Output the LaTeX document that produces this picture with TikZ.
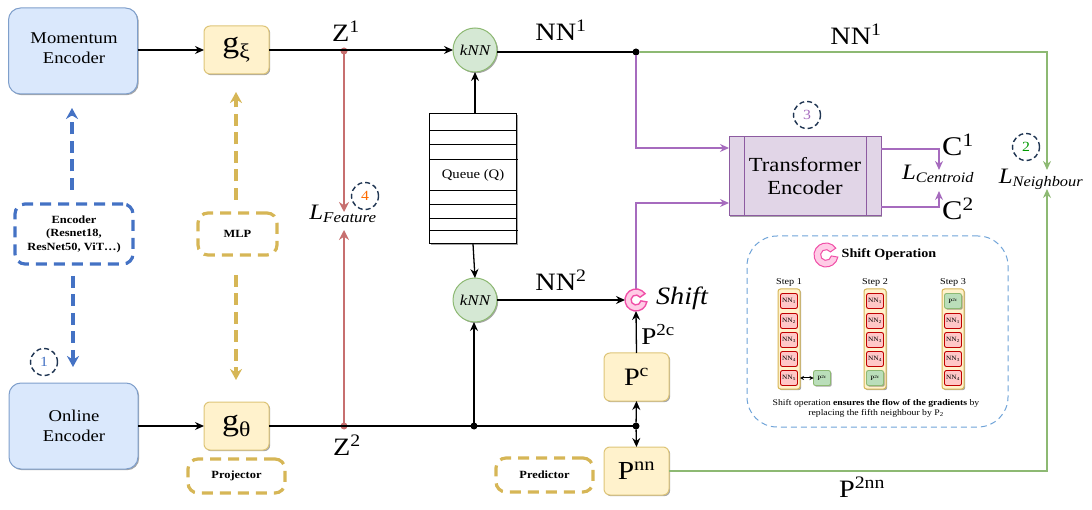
\documentclass[tikz,border=0pt]{standalone}
\usepackage{fontspec}
\setmainfont[FakeStretch=1.13]{Liberation Serif}
\usetikzlibrary{arrows.meta,shadows,calc}
\definecolor{bluefill}{HTML}{DAE8FC}\definecolor{blueedge}{HTML}{7F9FCB}
\definecolor{goldfill}{HTML}{FFF2CC}\definecolor{goldedge}{HTML}{D6B656}
\definecolor{greenfill}{HTML}{D5E8D4}\definecolor{greenedge}{HTML}{8DB973}
\definecolor{purplefill}{HTML}{E1D5E7}\definecolor{purpleedge}{HTML}{A66BBE}
\definecolor{redline}{HTML}{C76F6F}\definecolor{dashblue}{HTML}{4472C4}
\definecolor{navy}{HTML}{1F3552}\definecolor{pinkedge}{HTML}{F050A8}
\definecolor{pinkfill}{HTML}{FFCCE6}\definecolor{boxblue}{HTML}{6FA3D8}
\newcommand\fs[1]{\fontsize{#1}{#1}\selectfont}
\tikzset{
  every node/.style={inner sep=0pt,outer sep=0pt,align=center,text=black},
  shade/.style={drop shadow={shadow xshift=1.2pt,shadow yshift=-1.2pt,opacity=.35,fill=black}},
  encbox/.style={draw=blueedge,fill=bluefill,line width=1pt,rounded corners=12pt,minimum width=129pt,minimum height=86pt,shade},
  enctext/.style={font=\fs{16.5}},
  goldbox/.style={draw=goldedge!80,fill=goldfill,line width=1pt,rounded corners=6pt,minimum width=65pt,minimum height=48pt,shade},
  knnbox/.style={circle,draw=greenedge,fill=greenfill,line width=1pt,minimum size=44pt,shade,font=\fs{15}\itshape},
  dashbox/.style={draw,dash pattern=on 11pt off 7pt,line width=3.2pt,rounded corners=10pt,font=\fs{11}\bfseries},
  numcirc/.style={circle,draw=navy,dash pattern=on 5pt off 3pt,line width=1.4pt,minimum size=27pt,font=\fs{14}},
  arr/.style={-{Stealth[length=9pt,width=8pt]},line width=1.3pt,draw=black},
  plain/.style={line width=1.3pt,draw=black},
  dot/.style={circle,fill=black,minimum size=7pt},
  purp/.style={-{Stealth[length=9pt,width=8pt]},line width=1.3pt,draw=purpleedge},
  grn/.style={-{Stealth[length=9pt,width=8pt]},line width=1.3pt,draw=greenedge},
  red/.style={-{Stealth[length=10pt,width=10pt]},line width=1.5pt,draw=redline},
  dashblue arrow/.style={-{Stealth[length=11pt,width=12pt]},draw=dashblue,line width=3.4pt,dash pattern=on 12pt off 6.5pt},
  dashgold arrow/.style={-{Stealth[length=11pt,width=12pt]},draw=goldedge,line width=3.4pt,dash pattern=on 12pt off 6.5pt},
  lab/.style={font=\fs{25}},
  col/.style={draw=goldedge,fill=goldfill,line width=1pt,rounded corners=2.5pt,minimum width=22pt,minimum height=100pt,shade},
  nnbox/.style={draw=red!75!black,fill=red!22,line width=.9pt,rounded corners=2pt,minimum width=17pt,minimum height=15pt,font=\fs{6.5}},
  pxbox/.style={draw=greenedge,fill=green!35!gray!40,line width=.9pt,rounded corners=2pt,minimum width=17pt,minimum height=15pt,shade,font=\fs{6.5}},
  cring/.pic={
    \fill[pinkfill,draw=pinkedge,line width=#1]
      (-10:1) arc[start angle=-10,end angle=-325,radius=1]
      -- (-325:.45) arc[start angle=-325,end angle=-10,radius=.45] -- cycle;
  },
}
\begin{document}
\begin{tikzpicture}[x=1pt,y=-1pt]
\useasboundingbox (0,0) rectangle (1092,510);
% encoders
\node[encbox] (mom) at (73,51) {};
\node[enctext] (momt) at (74,48) {Momentum\\[3.5pt]Encoder};
\node[encbox] (onl) at (73.5,426) {};
\node[enctext] (onlt) at (74,426) {Online\\[3.5pt]Encoder};
\node[dashbox,draw=dashblue,minimum width=118pt,minimum height=60pt] (encl) at (74,234) {Encoder\\[2.5pt](Resnet18,\\[2.5pt]ResNet50, ViT…)};
\coordinate (bup) at (72,190);\coordinate (btop) at (72,108);
\coordinate (bdn) at (73,276);\coordinate (bbot) at (73,367);
\draw[dashblue arrow] (bup) -- (btop);
\draw[dashblue arrow] (bdn) -- (bbot);
\node[numcirc,text=dashblue] (n1) at (44,362) {1};
% projector
\node[goldbox,font=\fs{30}] (gx) at (236.5,50) {g\textsubscript{ξ}};
\node[goldbox,font=\fs{30}] (gt) at (236.5,426) {g\textsubscript{θ}};
\node[dashbox,draw=goldedge,minimum width=79pt,minimum height=42pt] (mlp) at (237.5,234) {MLP};
\node[dashbox,draw=goldedge,minimum width=97pt,minimum height=34pt] (proj) at (236.5,476) {Projector};
\coordinate (gup) at (236,200);\coordinate (gtop) at (236,92);
\coordinate (gdn) at (236,275);\coordinate (gbot) at (236,380);
\draw[dashgold arrow] (gup) -- (gtop);
\draw[dashgold arrow] (gdn) -- (gbot);
\draw[arr] (mom.east |- gx.west) -- (gx.west);
\draw[arr] (onl.east) -- (gt.west);
% kNN and queue
\node[knnbox] (k1) at (475,50) {kNN};
\node[knnbox] (k2) at (475,300) {kNN};
\node[draw=black,fill=white,line width=1pt,minimum width=87pt,minimum height=130pt,shade] (q) at (473,179) {};
\foreach \yy/\xe in {131/516,145/516,160/518,191/516,205/516,219/516,231/518}
  \draw[line width=1pt] (430,\yy) -- (\xe,\yy);
\node[font=\fs{13}] (qt) at (473,175) {Queue (Q)};
\draw[arr] (q.north -| k1) -- (k1.south);
\draw[arr] (q.south) -- (k2.north);
% Z1 line
\node[circle,fill=redline,minimum size=7pt] (zd1) at (344,51) {};
\node[circle,fill=redline,minimum size=7pt] (zd2) at (344,426) {};
\node[lab] (z1) at (346,31) {Z\textsuperscript{1}};
\node[lab] (z2) at (347,445) {Z\textsuperscript{2}};
\draw[arr] (gx.east) -- (k1.west);
% Z2 line
\node[dot] (d1) at (474,426) {};
\node[dot] (d2) at (636,426) {};
\draw[plain] (gt.east) -- (d2);
\draw[arr] (d1) -- (k2.south -| d1);
% L feature
\node[font=\fs{22}] (lf) at (343,214) {\textit{L}\textsubscript{\fs{15}\itshape Feature}};
\coordinate (lft) at (344,212);\coordinate (lfb) at (344,230);
\draw[red] (zd1) -- (lft);
\draw[red] (zd2) -- (lfb);
\node[numcirc,text=orange!85!red] (n4) at (365,196) {4};
% NN1
\node[dot] (d3) at (636,52) {};
\node[lab] (nn1a) at (561,30) {NN\textsuperscript{1}};
\node[lab] (nn1b) at (856,34) {NN\textsuperscript{1}};
\node[lab] (nn2) at (561,280) {NN\textsuperscript{2}};
\draw[plain] (k1.east |- d3) -- (d3);
% transformer
\node[draw=purpleedge!85!black,fill=purplefill,line width=1pt,minimum width=152pt,minimum height=79pt,shade,font=\fs{20}] (tr) at (805,176.5) {Transformer\\[3pt]Encoder};
\draw[purpleedge!85!black,line width=1pt] (744,137) -- (744,216) (866,137) -- (866,216);
\node[numcirc,text=purpleedge] (n3) at (807,115) {3};
\coordinate (tin1) at (729,148);\coordinate (tin2) at (729,203);
\draw[purp] (d3) |- (tin1);
% shift
\node[minimum size=22pt,circle] (sh) at (636,300) {};
\draw[purp] (sh.north) |- (tin2);
\pic[scale=11,yscale=-1] at (sh) {cring=1.4pt};
\node[font=\fs{25}\itshape] (sht) at (682,298) {Shift};
\draw[arr] (k2.east) -- (sh.west);
% predictors
\node[goldbox,font=\fs{25}] (pc) at (636.5,377) {P\textsuperscript{c}};
\node[goldbox,font=\fs{26}] (pn) at (636.5,471) {P\textsuperscript{nn}};
\node[dashbox,draw=goldedge,minimum width=97pt,minimum height=34pt] (pred) at (544.5,475) {Predictor};
\draw[arr] (pc.north) -- (sh.south);
\draw[arr] (d2) -- (pc.south);
\draw[arr] (d2) -- (pn.north);
\node[font=\fs{24}] (p2c) at (658,334) {P\textsuperscript{2c}};
\node[lab] (p2n) at (862,487) {P\textsuperscript{2nn}};
% C and losses
\node[font=\fs{27}] (c1) at (958,145) {C\textsuperscript{1}};
\node[font=\fs{27}] (c2) at (958,209) {C\textsuperscript{2}};
\node[font=\fs{22}] (lc) at (938,174) {\textit{L}\textsubscript{\fs{14.5}\itshape Centroid}};
\node[font=\fs{22}] (ln) at (1041,179) {\textit{L}\textsubscript{\fs{14.5}\itshape Neighbour}};
\coordinate (lct) at (939,170);\coordinate (lcb) at (939,191);
\coordinate (c1o) at (881,149);\coordinate (c2o) at (881,207);
\draw[purp] (c1o) -| (lct);
\draw[purp] (c2o) -| (lcb);
\coordinate (lnt) at (1047,170);\coordinate (lnb) at (1047,189);
\draw[grn] (d3) -| (lnt);
\draw[grn] (pn.east) -| (lnb);
\node[numcirc,text=green!60!black] (n2) at (1026,147) {2};
% shift operation panel
\node[draw=boxblue,dash pattern=on 6pt off 4pt,line width=1pt,rounded corners=30pt,minimum width=261pt,minimum height=191pt] (panel) at (877.5,331.5) {};
\node[minimum size=24pt,circle] (ic) at (826,255) {};
\pic[scale=12,yscale=-1] at (ic) {cring=1pt};
\node[font=\fs{12.5}\bfseries] (st) at (889,254) {Shift Operation};
\foreach \cx/\lbl/\nm in {789/Step 1/a,875/Step 2/b,953/Step 3/c}{
  \node[font=\fs{9}] (t\nm) at (\cx,282) {\lbl};
  \node[col] (col\nm) at (\cx,339) {};
}
\foreach \yy/\tx/\ii in {301/1/1,321/2/2,340/3/3,359/4/4,378/5/5}
  \node[nnbox] (a\ii) at (789,\yy) {NN\textsubscript{\tx}};
\foreach \yy/\tx/\ii in {301/1/1,321/2/2,340/3/3,359/4/4}
  \node[nnbox] (b\ii) at (875,\yy) {NN\textsubscript{\tx}};
\foreach \yy/\tx/\ii in {321/1/2,340/2/3,359/3/4,378/4/5}
  \node[nnbox] (c\ii) at (953,\yy) {NN\textsubscript{\tx}};
\node[pxbox] (pb) at (875,378) {P\textsuperscript{2c}};
\node[pxbox] (pcc) at (953,301) {P\textsuperscript{2c}};
\node[pxbox] (pa) at (822,378) {P\textsuperscript{2c}};
\draw[{Stealth[length=4pt,width=4pt]}-{Stealth[length=4pt,width=4pt]},line width=1pt] (cola.east |- pa) -- (pa.west);
\node[font=\fs{8.6}] (cap) at (876,408.5) {Shift operation \textbf{ensures the flow of the gradients} by\\[1.5pt]replacing the fifth neighbour by P\textsubscript{2}};
\end{tikzpicture}
\end{document}
